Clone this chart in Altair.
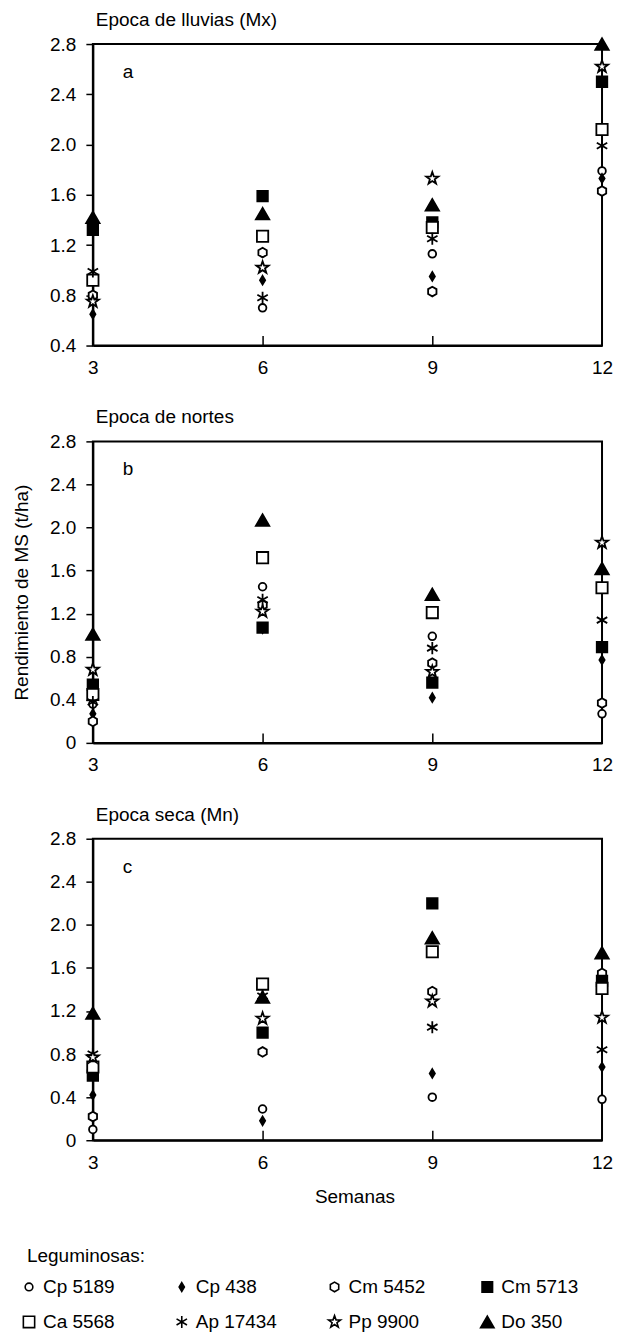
import altair as alt
import pandas as pd

weeks = [3, 6, 9, 12]
legumes = ["Cp 5189", "Cp 438", "Cm 5452", "Cm 5713",
           "Ca 5568", "Ap 17434", "Pp 9900", "Do 350"]

# Rendimiento de MS (t/ha) por semana (3, 6, 9, 12)
lluvias = {
    "Cp 5189": [0.78, 0.70, 1.13, 1.79],
    "Cp 438": [0.65, 0.92, 0.95, 1.73],
    "Cm 5452": [0.80, 1.14, 0.83, 1.63],
    "Cm 5713": [1.32, 1.59, 1.38, 2.50],
    "Ca 5568": [0.92, 1.27, 1.34, 2.12],
    "Ap 17434": [0.99, 0.78, 1.25, 1.99],
    "Pp 9900": [0.75, 1.02, 1.73, 2.62],
    "Do 350": [1.42, 1.45, 1.52, 2.80],
}
nortes = {
    "Cp 5189": [0.36, 1.45, 0.99, 0.27],
    "Cp 438": [0.27, 1.06, 0.42, 0.77],
    "Cm 5452": [0.20, 1.28, 0.74, 0.37],
    "Cm 5713": [0.54, 1.07, 0.56, 0.89],
    "Ca 5568": [0.45, 1.72, 1.21, 1.44],
    "Ap 17434": [0.38, 1.33, 0.88, 1.14],
    "Pp 9900": [0.68, 1.22, 0.66, 1.86],
    "Do 350": [1.01, 2.07, 1.38, 1.62],
}
seca = {
    "Cp 5189": [0.10, 0.29, 0.40, 0.38],
    "Cp 438": [0.42, 0.18, 0.62, 0.68],
    "Cm 5452": [0.22, 0.82, 1.38, 1.55],
    "Cm 5713": [0.60, 1.00, 2.20, 1.48],
    "Ca 5568": [0.68, 1.45, 1.75, 1.41],
    "Ap 17434": [0.80, 1.34, 1.05, 0.84],
    "Pp 9900": [0.77, 1.13, 1.29, 1.14],
    "Do 350": [1.18, 1.33, 1.88, 1.74],
}

panel_titles = ["Epoca de lluvias (Mx)", "Epoca de nortes", "Epoca seca (Mn)"]
panel_letters = ["a", "b", "c"]
panel_data = [lluvias, nortes, seca]
y_domains = [[0.4, 2.8], [0.0, 2.8], [0.0, 2.8]]
y_ticks = [
    [0.4, 0.8, 1.2, 1.6, 2.0, 2.4, 2.8],
    [0.0, 0.4, 0.8, 1.2, 1.6, 2.0, 2.4, 2.8],
    [0.0, 0.4, 0.8, 1.2, 1.6, 2.0, 2.4, 2.8],
]
inner_ticks = [6, 9]
legend_title = "Leguminosas:"
legend_columns = 4

# marker styles
HEX = "M0,-1L0.866,-0.5L0.866,0.5L0,1L-0.866,0.5L-0.866,-0.5Z"
STAR = ("M0,-1L0.235,-0.324L0.951,-0.309L0.380,0.124L0.588,0.809L0,0.4"
        "L-0.588,0.809L-0.380,0.124L-0.951,-0.309L-0.235,-0.324Z")
AST = "M0,-1L0,1M-0.866,-0.5L0.866,0.5M-0.866,0.5L0.866,-0.5"
DIAM = "M0,-1L0.6,0L0,1L-0.6,0Z"
shapes = ["circle", DIAM, HEX, "square", "square", AST, STAR, "triangle-up"]
fills = ["white", "black", "white", "black", "white", "white", "white", "black"]
strokes = ["black"] * 8
sizes = [59, 180, 137, 115, 72, 144, 290, 137]

FONT = "Liberation Sans"
PANEL_W = 510
PANEL_H = 302

shape_enc = alt.Shape("leguminosa:N", scale=alt.Scale(domain=legumes, range=shapes), legend=None)
fill_enc = alt.Fill("leguminosa:N", scale=alt.Scale(domain=legumes, range=fills), legend=None)
stroke_enc = alt.Stroke("leguminosa:N", scale=alt.Scale(domain=legumes, range=strokes), legend=None)
size_enc = alt.Size("leguminosa:N", scale=alt.Scale(domain=legumes, range=sizes), legend=None)


def panel(i):
    rows = []
    for leg in legumes:
        for w, v in zip(weeks, panel_data[i][leg]):
            rows.append({"semana": w, "valor": v, "leguminosa": leg})
    df = pd.DataFrame(rows)

    label_expr = "datum.value == 0 ? '0' : format(datum.value, '.1f')"
    y_axis = alt.Axis(
        values=y_ticks[i], labelExpr=label_expr, grid=False,
        tickSize=7, tickColor="black", tickWidth=1.5,
        domainColor="black", domainWidth=2,
        labelFontSize=19, labelFont=FONT, labelColor="black", labelPadding=10,
        title="Rendimiento de MS (t/ha)" if i == 1 else None,
        titleFontSize=19, titleFontWeight="normal", titleFont=FONT,
        titleColor="black", titlePadding=18,
    )
    x_axis = alt.Axis(
        values=weeks, format="d", grid=False, ticks=False,
        domainColor="black", domainWidth=2, labelFlush=False,
        labelFontSize=19, labelFont=FONT, labelColor="black", labelPadding=13,
        title="Semanas" if i == 2 else None,
        titleFontSize=19, titleFontWeight="normal", titleFont=FONT,
        titleColor="black", titlePadding=15, titleX=262, titleAlign="center",
    )
    xs = alt.Scale(domain=[3, 12], nice=False, zero=False)
    ys = alt.Scale(domain=y_domains[i], nice=False, zero=False)

    pts = alt.Chart(df).mark_point(
        strokeWidth=1.8, opacity=1, clip=False
    ).encode(
        x=alt.X("semana:Q", scale=xs, axis=x_axis),
        y=alt.Y("valor:Q", scale=ys, axis=y_axis),
        shape=shape_enc, fill=fill_enc, stroke=stroke_enc, size=size_enc,
    )

    ticks_df = pd.DataFrame({"semana": inner_ticks})
    tick_layer = alt.Chart(ticks_df).mark_point(opacity=0).encode(
        x=alt.X("semana:Q", scale=xs, axis=alt.Axis(
            values=inner_ticks, orient="bottom", offset=-10, tickSize=10,
            tickColor="black", tickWidth=1.5, labels=False, domain=False,
            grid=False, title=None)),
    )

    letter = alt.Chart(pd.DataFrame({"t": [panel_letters[i]]})).mark_text(
        fontSize=19, font=FONT, color="black", align="left", baseline="alphabetic"
    ).encode(text="t:N", x=alt.value(30), y=alt.value(34))

    return alt.layer(pts, tick_layer, letter).resolve_axis(x="independent").properties(
        width=PANEL_W, height=PANEL_H,
        view=alt.ViewBackground(stroke="black", strokeWidth=2),
        title=alt.TitleParams(panel_titles[i], anchor="start", frame="group",
                              fontSize=19, fontWeight="normal", font=FONT,
                              color="black", offset=5, dx=3),
    )


# legend panel (grid of entries built from the legume list)
leg_df = pd.DataFrame({
    "leguminosa": legumes,
    "col": [k % legend_columns for k in range(len(legumes))],
    "fila": [k // legend_columns for k in range(len(legumes))],
})
leg_base = alt.Chart(leg_df).encode(
    x=alt.X("col:Q", scale=alt.Scale(domain=[0.418, 3.751], nice=False, zero=False), axis=None),
    y=alt.Y("fila:Q", scale=alt.Scale(domain=[-1.4286, 1.2857], nice=False, zero=False, reverse=True), axis=None),
)
leg_sym = leg_base.mark_point(strokeWidth=1.6, opacity=1, clip=False).encode(
    shape=shape_enc, fill=fill_enc, stroke=stroke_enc, size=size_enc,
)
leg_lab = leg_base.mark_text(
    align="left", baseline="middle", dx=14, fontSize=19, font=FONT, color="black", clip=False
).encode(text="leguminosa:N")
leg_title = alt.Chart(pd.DataFrame({"t": [legend_title]})).mark_text(
    align="left", baseline="middle", fontSize=19, font=FONT, color="black"
).encode(text="t:N", x=alt.value(-66), y=alt.value(19))

legend_panel = alt.layer(leg_sym, leg_lab, leg_title).properties(
    width=PANEL_W, height=95,
    view=alt.ViewBackground(stroke="transparent"),
)

chart = alt.vconcat(panel(0), panel(1), panel(2), legend_panel, spacing=29).resolve_scale(
    x="independent", y="independent"
).properties(
    padding={"left": 3, "top": 0, "right": 0, "bottom": 0}
).configure(background="white").configure_view(stroke="transparent")

chart.save("out.html", embed_options={"renderer": "svg", "actions": False})
